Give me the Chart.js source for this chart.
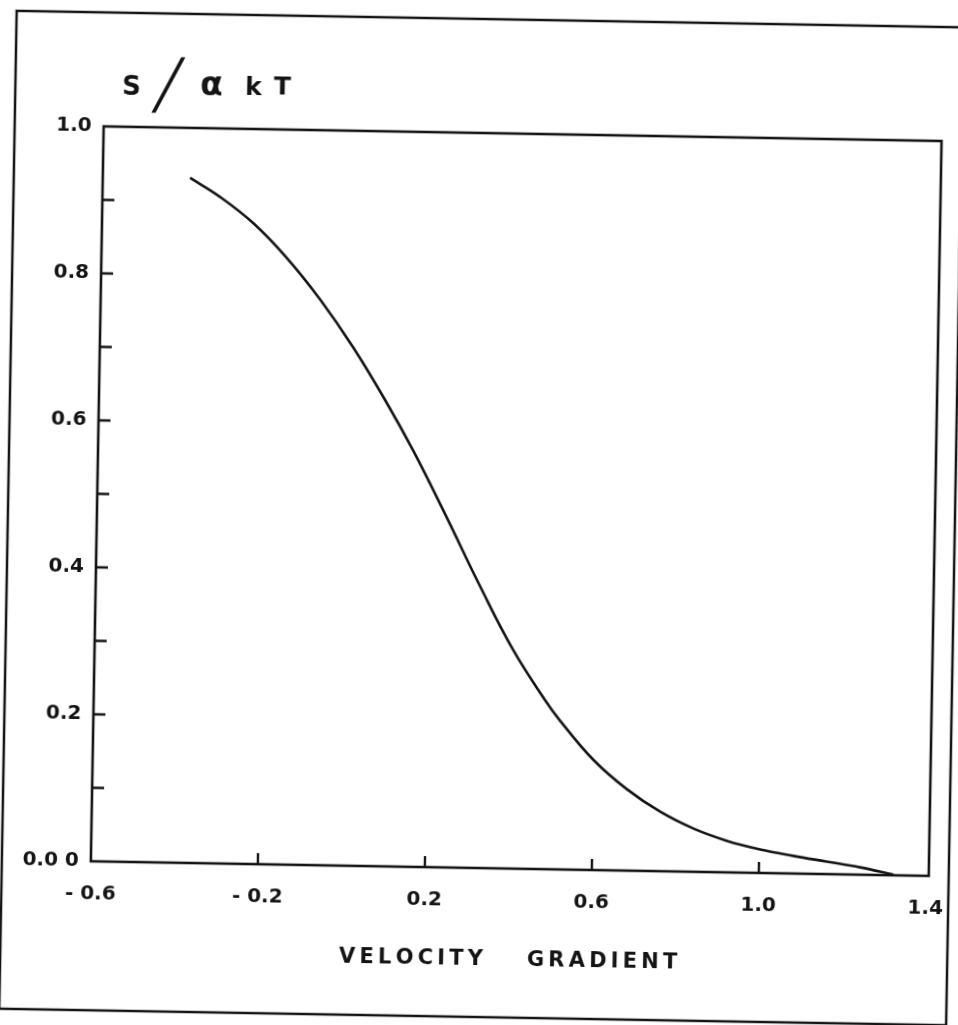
<!DOCTYPE html>
<html>
<head>
<meta charset="utf-8">
<title>S / αkT vs velocity gradient</title>
<script src="https://cdn.jsdelivr.net/npm/chart.js@4.4.1/dist/chart.umd.min.js"></script>
<style>
  html, body { margin: 0; padding: 0; background: #fff; overflow: hidden; }
  #wrap { width: 958px; height: 1025px; overflow: hidden; }
  /* the scanned figure sits about one degree off square */
  #myChart { display: block; transform: rotate(1deg); transform-origin: 479px 512px; }
</style>
</head>
<body>
<div id="wrap"><canvas id="myChart" width="958" height="1025"></canvas></div>
<script>
// --- DATA ---
const velocityGradient = [-0.391, -0.319, -0.238, -0.157, -0.075, 0.007, 0.089, 0.155, 0.238, 0.320,
                          0.403, 0.481, 0.517, 0.599, 0.680, 0.761, 0.841, 0.922, 1.002, 1.082,
                          1.162, 1.242, 1.322];
const sOverAkT = [0.932, 0.907, 0.872, 0.826, 0.770, 0.705, 0.631, 0.566, 0.476, 0.384,
                  0.297, 0.230, 0.203, 0.150, 0.111, 0.081, 0.059, 0.043, 0.032, 0.024,
                  0.017, 0.010, 0.001];

const xTickValues = [-0.6, -0.2, 0.2, 0.6, 1.0, 1.4];
const xTickLabels = ['- 0.6', '- 0.2', '0.2', '0.6', '1.0', '1.4'];
const yTickValues = [0, 0.1, 0.2, 0.3, 0.4, 0.5, 0.6, 0.7, 0.8, 0.9, 1.0];
const yTickLabels = ['0.0 0', '', '0.2', '', '0.4', '', '0.6', '', '0.8', '', '1.0'];

const ink = '#141414';
const fontFamily = '"DejaVu Sans", sans-serif';

// --- Frame, inward ticks and the S/αkT label ---
const frameAndTicks = {
    id: 'frameAndTicks',
    afterDraw(chart) {
        const c = chart.ctx;
        const a = chart.chartArea;
        const xs = chart.scales.x;
        const ys = chart.scales.y;
        c.save();
        c.strokeStyle = ink;
        c.fillStyle = ink;

        // outer border of the figure
        c.lineWidth = 2.5;
        c.strokeRect(8, 19, 947, 998);

        // plot box
        c.lineWidth = 2.6;
        c.strokeRect(a.left, a.top, a.right - a.left, a.bottom - a.top);

        // ticks point into the plot
        c.lineWidth = 2.4;
        c.beginPath();
        xTickValues.forEach(v => {
            const px = xs.getPixelForValue(v);
            if (px > a.left + 5 && px < a.right - 5) {
                c.moveTo(px, a.bottom);
                c.lineTo(px, a.bottom - 11);
            }
        });
        yTickValues.forEach(v => {
            const py = ys.getPixelForValue(v);
            if (py > a.top + 5 && py < a.bottom - 5) {
                c.moveTo(a.left, py);
                c.lineTo(a.left + 12, py);
            }
        });
        c.stroke();

        // y label: S / α k T
        c.textAlign = 'center';
        c.textBaseline = 'middle';
        c.font = 'bold 26px ' + fontFamily;
        c.fillText('S', 124, 94);
        c.font = '48px ' + fontFamily;
        c.fillText('╱', 161, 95);
        c.font = 'bold 33px ' + fontFamily;
        c.fillText('α', 204, 91);
        c.font = 'bold 25px ' + fontFamily;
        c.fillText('k', 246, 92);
        c.fillText('T', 275, 91);
        c.restore();
    }
};

// --- CHART ---
const ctx = document.getElementById('myChart');
new Chart(ctx, {
    type: 'line',
    data: {
        datasets: [{
            data: velocityGradient.map((x, i) => ({ x: x, y: sOverAkT[i] })),
            borderColor: ink,
            borderWidth: 2.6,
            pointRadius: 0,
            tension: 0.4,
            fill: false
        }]
    },
    options: {
        responsive: false,
        animation: false,
        devicePixelRatio: 1,
        layout: { padding: { top: 133, right: 23, left: 0, bottom: 0 } },
        plugins: {
            legend: { display: false },
            tooltip: { enabled: false }
        },
        scales: {
            x: {
                type: 'linear',
                min: -0.6,
                max: 1.407,
                grid: { display: false },
                border: { display: false },
                afterBuildTicks: s => { s.ticks = xTickValues.map(v => ({ value: v })); },
                afterFit: s => {
                    s.height = 157;
                    s.paddingLeft = 0;
                    s.paddingRight = 0;
                },
                ticks: {
                    autoSkip: false,
                    maxRotation: 0,
                    padding: 13,
                    color: ink,
                    font: { family: fontFamily, size: 20, weight: 'bold' },
                    callback: (v, i) => xTickLabels[i]
                },
                title: {
                    display: true,
                    text: 'V\u2009E\u2009L\u2009O\u2009C\u2009I\u2009T\u2009Y      G\u2009R\u2009A\u2009D\u2009I\u2009E\u2009N\u2009T',
                    color: ink,
                    font: { family: fontFamily, size: 21, weight: 'bold' },
                    padding: { top: 0, bottom: 53 }
                }
            },
            y: {
                type: 'linear',
                min: 0,
                max: 1,
                grid: { display: false },
                border: { display: false },
                afterBuildTicks: s => { s.ticks = yTickValues.map(v => ({ value: v })); },
                afterFit: s => { s.width = 97; },
                ticks: {
                    autoSkip: false,
                    padding: 4,
                    color: ink,
                    font: { family: fontFamily, size: 20, weight: 'bold' },
                    callback: (v, i) => yTickLabels[i]
                }
            }
        }
    },
    plugins: [frameAndTicks]
});
</script>
</body>
</html>
